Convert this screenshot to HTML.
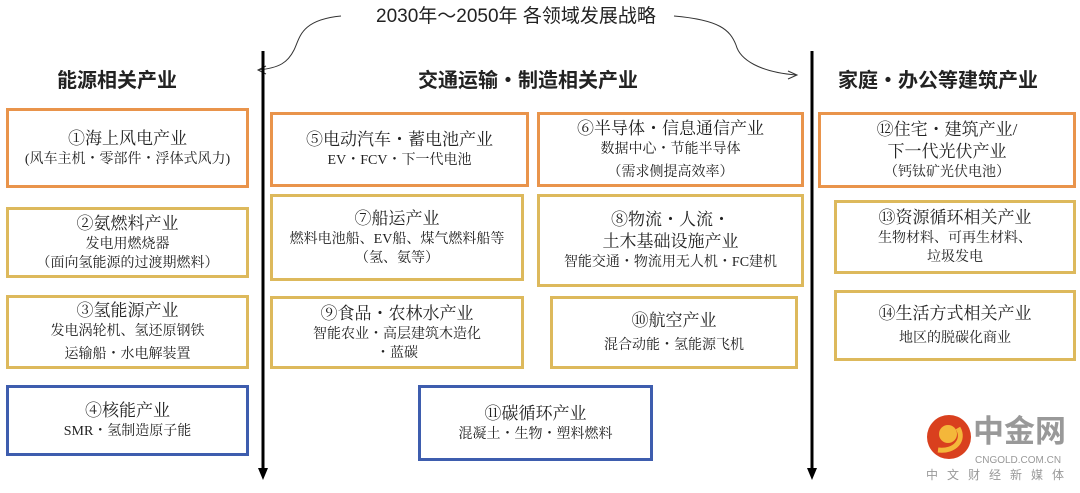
<!DOCTYPE html>
<html><head><meta charset="utf-8"><style>
body{margin:0;width:1080px;height:493px;background:#fff;position:relative;overflow:hidden;font-family:"Liberation Serif","Noto Serif CJK SC",serif;color:#222}
.b{position:absolute;box-sizing:border-box;border:3px solid;display:flex;flex-direction:column;justify-content:center;align-items:center;text-align:center;font-size:14px;line-height:19px}
.o{border-color:#E9944B}.g{border-color:#DDB95C}.u{border-color:#3E5DAE}
.t{font-size:17px;line-height:22px}
.h{position:absolute;font-family:"Liberation Sans","Noto Sans CJK SC",sans-serif;font-weight:bold;font-size:20px;color:#222}
</style></head><body>
<div style="position:absolute;left:376px;top:1px;font-family:'Liberation Sans','Noto Sans CJK SC',sans-serif;font-size:19px">2030年～2050年 各领域发展战略</div>
<svg width="1080" height="493" style="position:absolute;left:0;top:0">
<path d="M341 16 C300 20 300 38 294 50 C288 62 280 68 258 70" fill="none" stroke="#333" stroke-width="1"/>
<path d="M266 66 L258 70 L266 74" fill="none" stroke="#333" stroke-width="1"/>
<path d="M674 16 C720 20 730 30 736 45 C740 60 760 72 796 75" fill="none" stroke="#333" stroke-width="1"/>
<path d="M788 71 L797 75 L788 79" fill="none" stroke="#333" stroke-width="1"/>
<line x1="263" y1="51" x2="263" y2="470" stroke="#000" stroke-width="3"/>
<polygon points="258,468 268,468 263,480" fill="#000"/>
<line x1="812" y1="51" x2="812" y2="470" stroke="#000" stroke-width="3"/>
<polygon points="807,468 817,468 812,480" fill="#000"/>
<circle cx="949" cy="437" r="22" fill="#D9401E"/>
<circle cx="948" cy="434" r="9" fill="#F4B73A"/>
<path d="M938 450 C955 452 965 440 958 428" fill="none" stroke="#F4B73A" stroke-width="5"/>
</svg>
<div class="h" style="left:57px;top:64px">能源相关产业</div>
<div class="h" style="left:418px;top:64px">交通运输・制造相关产业</div>
<div class="h" style="left:838px;top:64px">家庭・办公等建筑产业</div>
<div class="b o" style="left:6px;top:108px;width:243px;height:80px"><div class="t">①海上风电产业</div>(风车主机・零部件・浮体式风力)</div>
<div class="b g" style="left:6px;top:207px;width:243px;height:71px"><div class="t">②氨燃料产业</div>发电用燃烧器<br>（面向氢能源的过渡期燃料）</div>
<div class="b g" style="left:6px;top:295px;width:243px;height:74px"><div class="t">③氢能源产业</div>发电涡轮机、氢还原钢铁<div style="margin-top:4px">运输船・水电解装置</div></div>
<div class="b u" style="left:6px;top:385px;width:243px;height:71px"><div class="t">④核能产业</div>SMR・氢制造原子能</div>
<div class="b o" style="left:270px;top:112px;width:259px;height:75px"><div class="t">⑤电动汽车・蓄电池产业</div>EV・FCV・下一代电池</div>
<div class="b o" style="left:537px;top:112px;width:267px;height:75px"><div class="t">⑥半导体・信息通信产业</div>数据中心・节能半导体<div style="margin-top:4px">（需求侧提高效率）</div></div>
<div class="b g" style="left:270px;top:194px;width:254px;height:87px"><div class="t">⑦船运产业</div>燃料电池船、EV船、煤气燃料船等<br>（氢、氨等）</div>
<div class="b g" style="left:537px;top:194px;width:267px;height:93px"><div class="t">⑧物流・人流・<br>土木基础设施产业</div>智能交通・物流用无人机・FC建机</div>
<div class="b g" style="left:270px;top:296px;width:254px;height:73px"><div class="t">⑨食品・农林水产业</div>智能农业・高层建筑木造化<br>・蓝碳</div>
<div class="b g" style="left:550px;top:296px;width:248px;height:73px"><div class="t">⑩航空产业</div><div style="margin-top:4px">混合动能・氢能源飞机</div></div>
<div class="b u" style="left:418px;top:385px;width:235px;height:76px"><div class="t">⑪碳循环产业</div>混凝土・生物・塑料燃料</div>
<div class="b o" style="left:818px;top:112px;width:258px;height:76px"><div class="t">⑫住宅・建筑产业/<br>下一代光伏产业</div>（钙钛矿光伏电池）</div>
<div class="b g" style="left:834px;top:200px;width:242px;height:74px"><div class="t">⑬资源循环相关产业</div>生物材料、可再生材料、<br>垃圾发电</div>
<div class="b g" style="left:834px;top:290px;width:242px;height:71px"><div class="t">⑭生活方式相关产业</div><div style="margin-top:4px">地区的脱碳化商业</div></div>
<div style="position:absolute;left:973px;top:414px;font-family:'Liberation Sans','Noto Sans CJK SC',sans-serif;font-weight:bold;font-size:31px;line-height:36px;color:#999">中金网</div>
<div style="position:absolute;left:975px;top:455px;font-family:'Liberation Sans',sans-serif;font-size:10px;line-height:12px;color:#999">CNGOLD.COM.CN</div>
<div style="position:absolute;left:926px;top:468px;font-family:'Liberation Sans','Noto Sans CJK SC',sans-serif;font-size:12px;line-height:14px;color:#999;letter-spacing:9px">中文财经新媒体</div>
</body></html>
